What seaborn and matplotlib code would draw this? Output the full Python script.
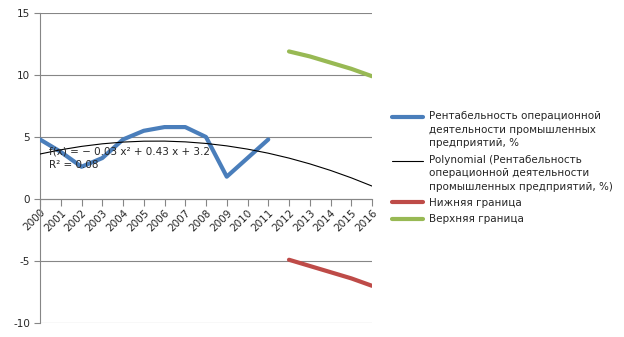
import numpy as np
import pandas as pd
import matplotlib
matplotlib.use("Agg")
import matplotlib.pyplot as plt
from matplotlib.legend_handler import HandlerLine2D
import seaborn as sns

sns.set_style("white")
plt.rcParams["font.family"] = ["DejaVu Sans"]
plt.rcParams["axes.unicode_minus"] = False

years = list(range(2000, 2017))
fact_years = list(range(2000, 2012))
fact_values = [4.8, 3.8, 2.6, 3.3, 4.8, 5.5, 5.8, 5.8, 5.0, 1.8, 3.3, 4.8]
forecast_years = [2012, 2013, 2014, 2015, 2016]
lower_values = [-4.9, -5.4, -5.9, -6.4, -7.0]
upper_values = [11.9, 11.5, 11.0, 10.5, 9.9]

label_fact = "Рентабельность операционной\nдеятельности промышленных\nпредприятий, %"
label_trend = "Polynomial (Рентабельность\nоперационной деятельности\nпромышленных предприятий, %)"
label_lower = "Нижняя граница"
label_upper = "Верхняя граница"

# quadratic trend over period index 1..12, extended to 17
idx = np.arange(1, len(fact_values) + 1)
coef = np.polyfit(idx, fact_values, 2)
trend_idx = np.arange(1, len(years) + 1)
trend_values = np.polyval(coef, trend_idx)

fact_df = pd.DataFrame({"year": fact_years, "value": fact_values})
trend_df = pd.DataFrame({"year": years, "value": trend_values})
lower_df = pd.DataFrame({"year": forecast_years, "value": lower_values})
upper_df = pd.DataFrame({"year": forecast_years, "value": upper_values})


class TopAlignedLine(HandlerLine2D):
    """Legend line handle that sits beside the first line of a wrapped label."""

    def __init__(self, shift=0.0, **kw):
        super().__init__(**kw)
        self.shift = shift

    def create_artists(self, legend, orig_handle, xdescent, ydescent,
                       width, height, fontsize, trans):
        artists = super().create_artists(legend, orig_handle, xdescent,
                                         ydescent, width, height, fontsize,
                                         trans)
        for a in artists:
            a.set_ydata(np.asarray(a.get_ydata()) + self.shift)
        return artists


fig = plt.figure(figsize=(6.24, 3.37), dpi=100)
ax = fig.add_axes([40 / 624, 14 / 337, 332 / 624, 310 / 337])

sns.lineplot(data=fact_df, x="year", y="value", ax=ax, color="#4A7EBB",
             linewidth=3.0, label=label_fact, zorder=4)
sns.lineplot(data=trend_df, x="year", y="value", ax=ax, color="black",
             linewidth=0.8, label=label_trend, zorder=5)
sns.lineplot(data=lower_df, x="year", y="value", ax=ax, color="#BE4B48",
             linewidth=3.0, label=label_lower, zorder=4)
sns.lineplot(data=upper_df, x="year", y="value", ax=ax, color="#98B954",
             linewidth=3.0, label=label_upper, zorder=4)

# spines first: moving a spine resets the axis ticks
for s in ["top", "right"]:
    ax.spines[s].set_visible(False)
ax.spines["left"].set_color("#868686")
ax.spines["left"].set_linewidth(0.8)
ax.spines["bottom"].set_position(("data", 0))
ax.spines["bottom"].set_color("#868686")
ax.spines["bottom"].set_linewidth(0.8)

ax.set_xlim(2000, 2016)
ax.set_ylim(-10, 15)
ax.set_yticks([-10, -5, 0, 5, 10, 15])
ax.set_xticks(years)
ax.set_xticklabels([str(y) for y in years])
ax.tick_params(axis="y", labelsize=7.5, length=4, color="#868686",
               direction="out", left=True, pad=3)
ax.tick_params(axis="x", labelsize=7.5, length=5, color="#868686",
               direction="out", bottom=True, pad=1, labelrotation=45)
plt.setp(ax.get_xticklabels(), ha="right", rotation_mode="anchor")
ax.set_xlabel("")
ax.set_ylabel("")
ax.grid(axis="y", color="#868686", linewidth=0.8)
ax.grid(axis="x", visible=False)

ax.text(2000.45, 3.8, "f(x) = − 0.03 x² + 0.43 x + 3.2", fontsize=7.5,
        va="center", ha="left", zorder=6)
ax.text(2000.45, 2.75, "R² = 0.08", fontsize=7.5, va="center", ha="left",
        zorder=6)

ax.legend_.remove()
handles, labels = ax.get_legend_handles_labels()
line_step = 9.4  # one wrapped text line, in points
handler_map = {h: TopAlignedLine(shift=line_step * lab.count("\n") / 2)
               for h, lab in zip(handles, labels)}
leg = fig.legend(handles, labels, loc="upper left",
                 bbox_to_anchor=(388 / 624, 1 - 107 / 337), frameon=False,
                 fontsize=7.5, handlelength=3.0, handletextpad=0.5,
                 labelspacing=0.6, borderaxespad=0, handler_map=handler_map)
for t in leg.get_texts():
    t.set_linespacing(1.45)

fig.savefig("out.png", dpi=100)
